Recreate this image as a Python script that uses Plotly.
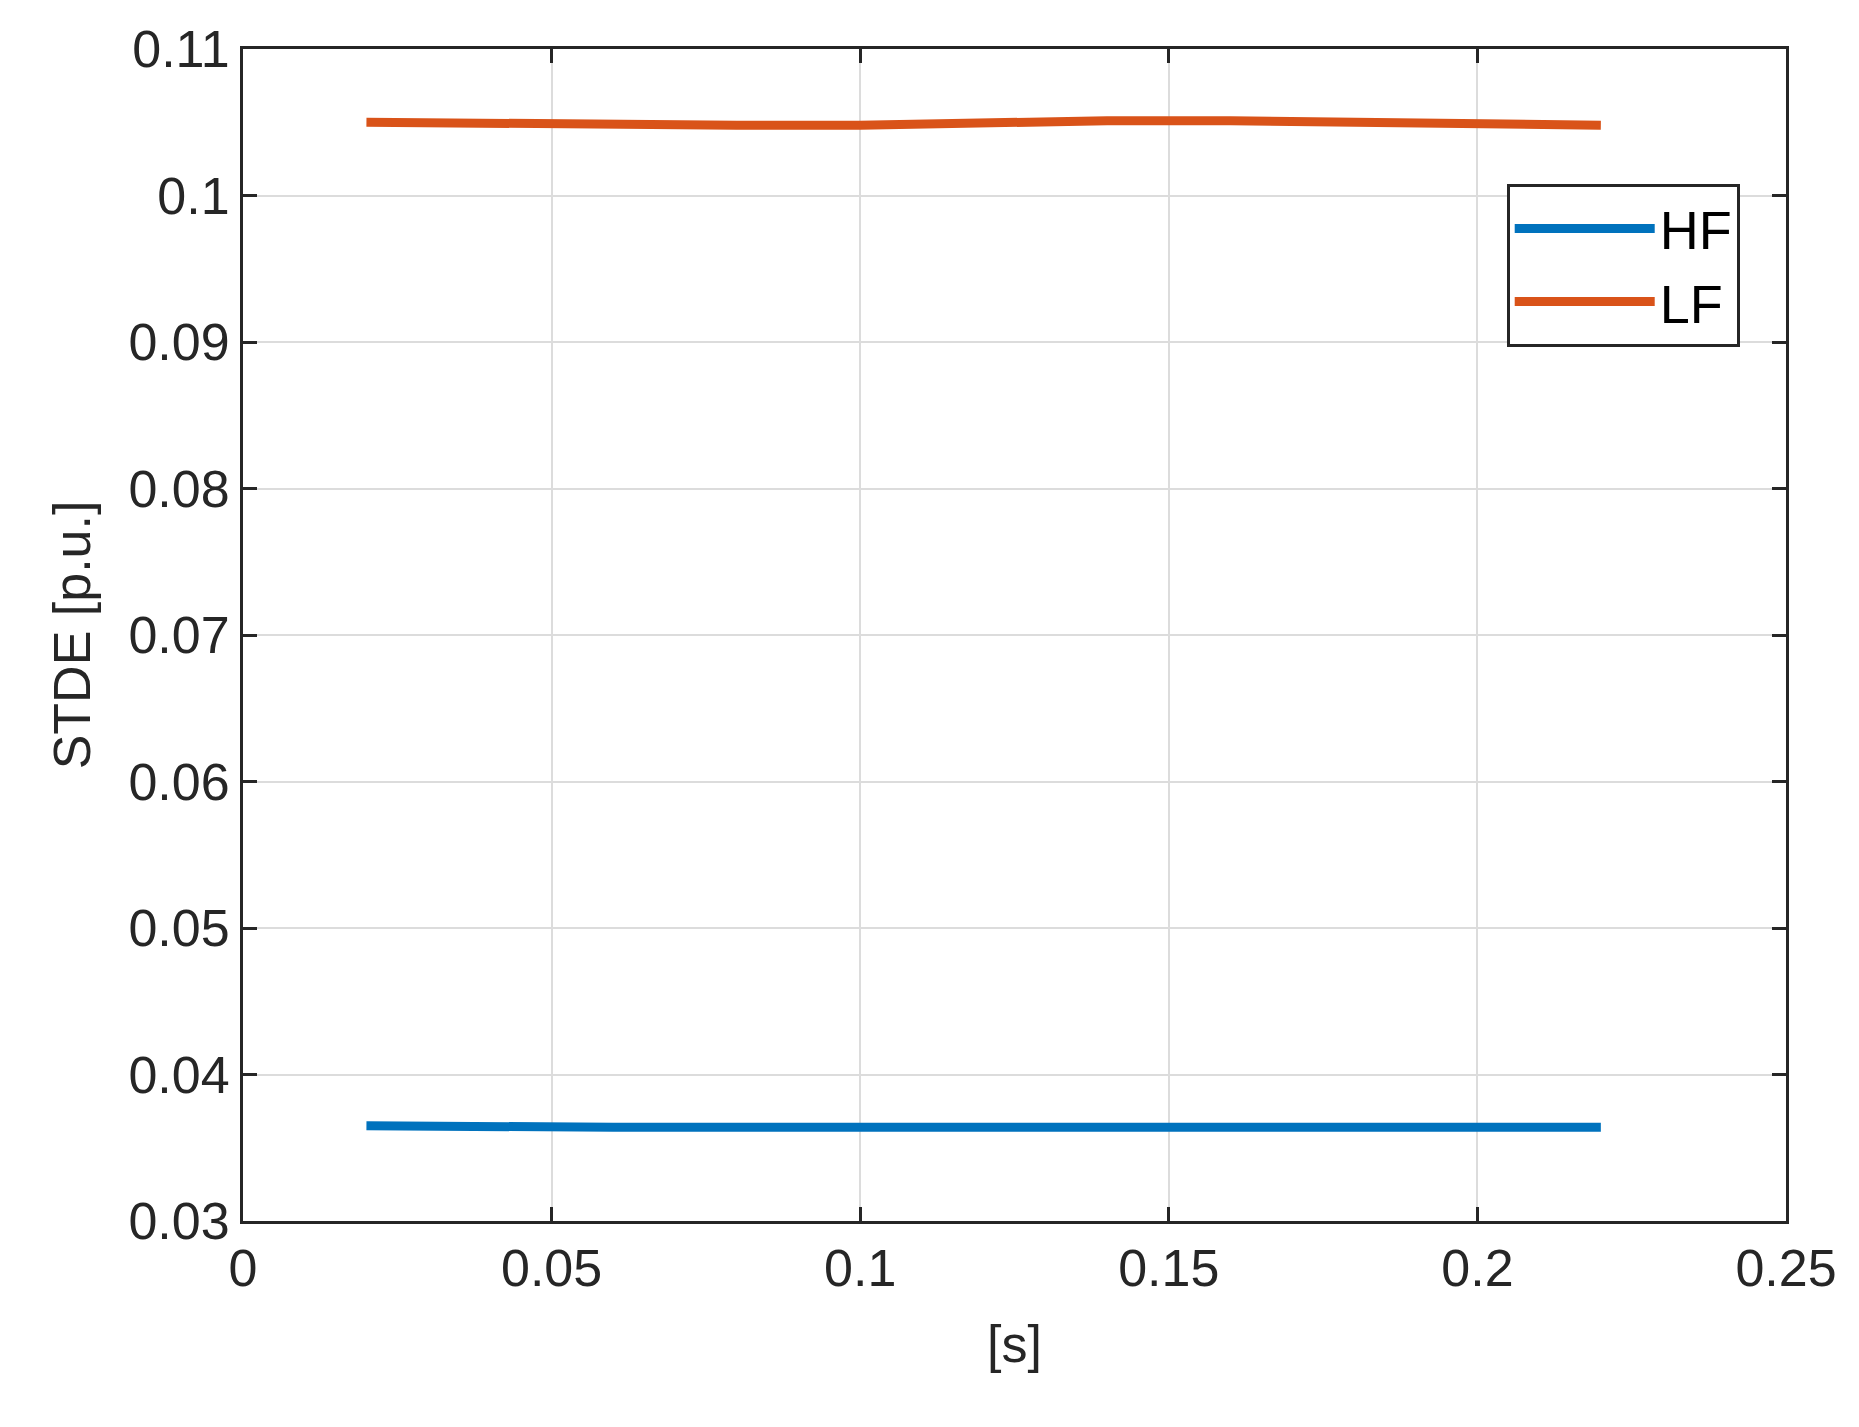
import plotly.graph_objects as go

t = [0.02, 0.04, 0.06, 0.08, 0.10, 0.12, 0.14, 0.16, 0.18, 0.20, 0.22]
hf = [0.0365, 0.0364, 0.0364, 0.0364, 0.0364, 0.0364, 0.0364, 0.0364, 0.0364, 0.0364, 0.0364]
lf = [0.1050, 0.1049, 0.1048, 0.1048, 0.1048, 0.1050, 0.1051, 0.1051, 0.1050, 0.1049, 0.1048]
xticks = [0, 0.05, 0.1, 0.15, 0.2, 0.25]
xlabels = ["0", "0.05", "0.1", "0.15", "0.2", "0.25"]
yticks = [0.03, 0.04, 0.05, 0.06, 0.07, 0.08, 0.09, 0.1, 0.11]
ylabels = ["0.03", "0.04", "0.05", "0.06", "0.07", "0.08", "0.09", "0.1", "0.11"]

FONT = "Liberation Sans"
fig = go.Figure()
fig.add_trace(go.Scatter(x=t, y=hf, mode="lines", name="HF", line=dict(color="#0072BD", width=9)))
fig.add_trace(go.Scatter(x=t, y=lf, mode="lines", name="LF", line=dict(color="#D95319", width=9)))

axcommon = dict(showline=True, linecolor="#262626", linewidth=3, mirror="ticks", ticks="inside",
                ticklen=14, tickwidth=3, tickcolor="#262626", showgrid=True, gridcolor="#dcdcdc",
                gridwidth=2, zeroline=False, tickfont=dict(family=FONT, size=52, color="#262626"))
fig.update_xaxes(range=[0, 0.25], tickvals=xticks, ticktext=xlabels,
                 title=dict(text="[s]", font=dict(family=FONT, size=52, color="#262626"), standoff=30), **axcommon)
fig.update_yaxes(range=[0.03, 0.11], tickvals=yticks, ticktext=ylabels,
                 title=dict(text="STDE [p.u.]", font=dict(family=FONT, size=52, color="#262626"), standoff=22), **axcommon)
fig.update_layout(
    width=1859, height=1427, plot_bgcolor="white", paper_bgcolor="white",
    margin=dict(l=235, r=81, t=41, b=214),
    legend=dict(x=0.97, y=0.885, xanchor="right", yanchor="top", bordercolor="#262626", borderwidth=3,
                bgcolor="white", font=dict(family=FONT, size=54, color="black"),
                itemwidth=140, tracegroupgap=10),
)
fig.write_html("out.html")
